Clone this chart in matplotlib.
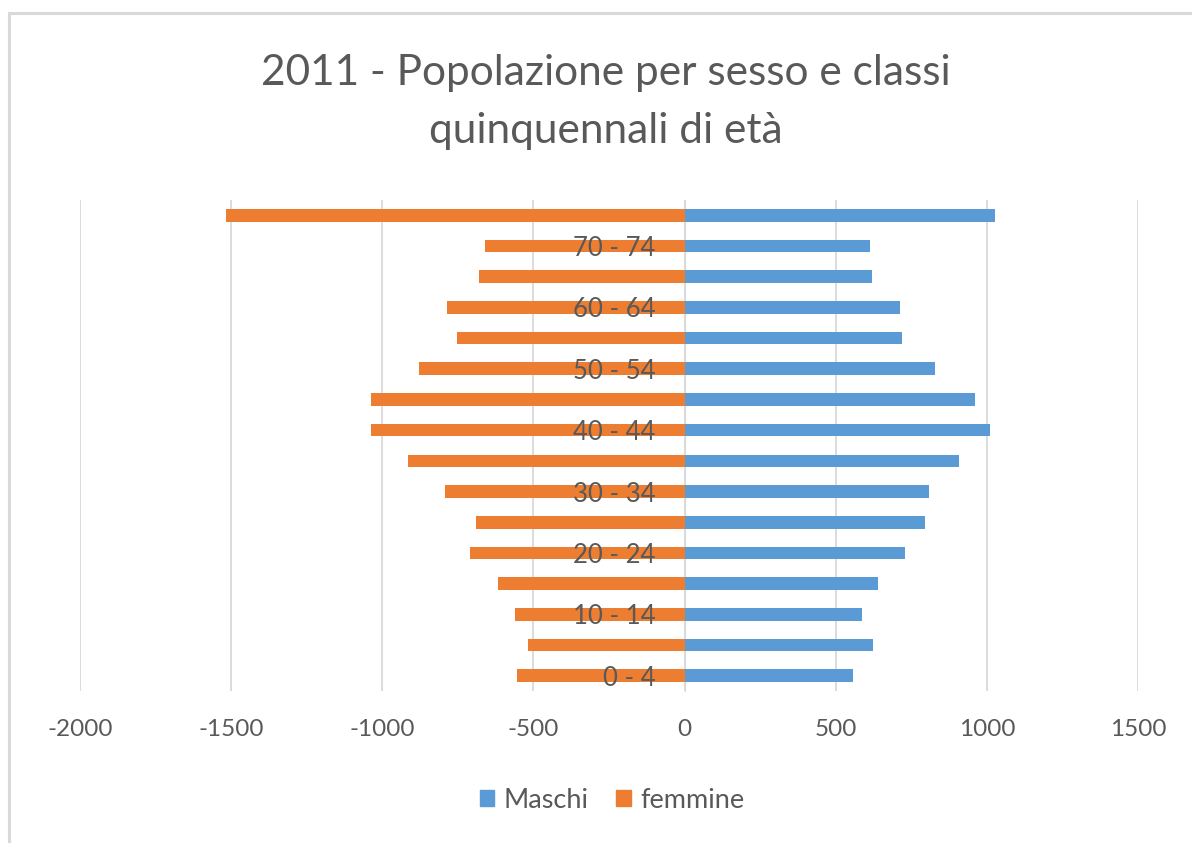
import matplotlib
matplotlib.use("Agg")
import matplotlib.pyplot as plt
from matplotlib.patches import Patch, Rectangle

plt.rcParams['font.family'] = ['Lato', 'DejaVu Sans']

categories = ["0 - 4", "5 - 9", "10 - 14", "15 - 19", "20 - 24", "25 - 29", "30 - 34",
              "35 - 39", "40 - 44", "45 - 49", "50 - 54", "55 - 59", "60 - 64",
              "65 - 69", "70 - 74", "75 +"]
maschi = [556, 624, 587, 640, 729, 797, 807, 908, 1009, 961, 829, 718, 714, 619, 613, 1028]
femmine = [-554, -517, -560, -617, -711, -690, -791, -916, -1037, -1037, -880, -753, -785, -680, -659, -1518]
xticks = [-2000, -1500, -1000, -500, 0, 500, 1000, 1500]

BLUE = "#5B9BD5"
ORANGE = "#ED7D31"
TEXT = "#595959"
GRID = "#D9D9D9"

fig = plt.figure(figsize=(11.92, 8.43), dpi=100)
ax = fig.add_axes([80/1192, 1 - 691/843, (1138-80)/1192, (691-200)/843])

y = list(range(len(categories)))
ax.barh(y, maschi, height=0.41, color=BLUE, label="Maschi", zorder=3)
ax.barh(y, femmine, height=0.41, color=ORANGE, label="femmine", zorder=3)

ax.set_xlim(-2000, 1500)
ax.set_ylim(-0.5, len(categories) - 0.5)
ax.set_xticks(xticks)
ax.set_xticklabels([str(v) for v in xticks])
ax.grid(axis='x', color=GRID, linewidth=1.3, zorder=0)
ax.set_axisbelow(True)

ax.set_yticks(y[::2])
ax.set_yticklabels(categories[::2])
ax.spines['left'].set_position(('data', 0))
ax.spines['left'].set_color(GRID)
for s in ['top', 'right', 'bottom']:
    ax.spines[s].set_visible(False)
ax.tick_params(axis='y', length=0, pad=21, labelsize=18.5, labelcolor=TEXT)
ax.tick_params(axis='x', length=0, pad=20, labelsize=17.5, labelcolor=TEXT)
ax.yaxis.set_zorder(5)
ax.spines['left'].set_zorder(2)

fig.text(606/1192, 1 - 73/843, "2011 - Popolazione per sesso e classi", ha='center', va='center',
         fontsize=30.5, color=TEXT)
fig.text(606/1192, 1 - 131/843, "quinquennali di età", ha='center', va='center',
         fontsize=30.5, color=TEXT)

handles = [Patch(color=BLUE, label="Maschi"), Patch(color=ORANGE, label="femmine")]
fig.legend(handles=handles, loc='center', bbox_to_anchor=(612/1192, 1 - 800/843), ncol=2,
           frameon=False, fontsize=19.5, labelcolor=TEXT, handlelength=0.55, handleheight=0.55,
           handletextpad=0.35, columnspacing=1.0)

# chart area border (left and top visible)
fig.patches.append(Rectangle((9/1192, -0.1), 1.2, 1 - 13/843 + 0.1, transform=fig.transFigure,
                             fill=False, edgecolor=GRID, linewidth=2.2))

fig.savefig("out.png", dpi=100, facecolor='white')
